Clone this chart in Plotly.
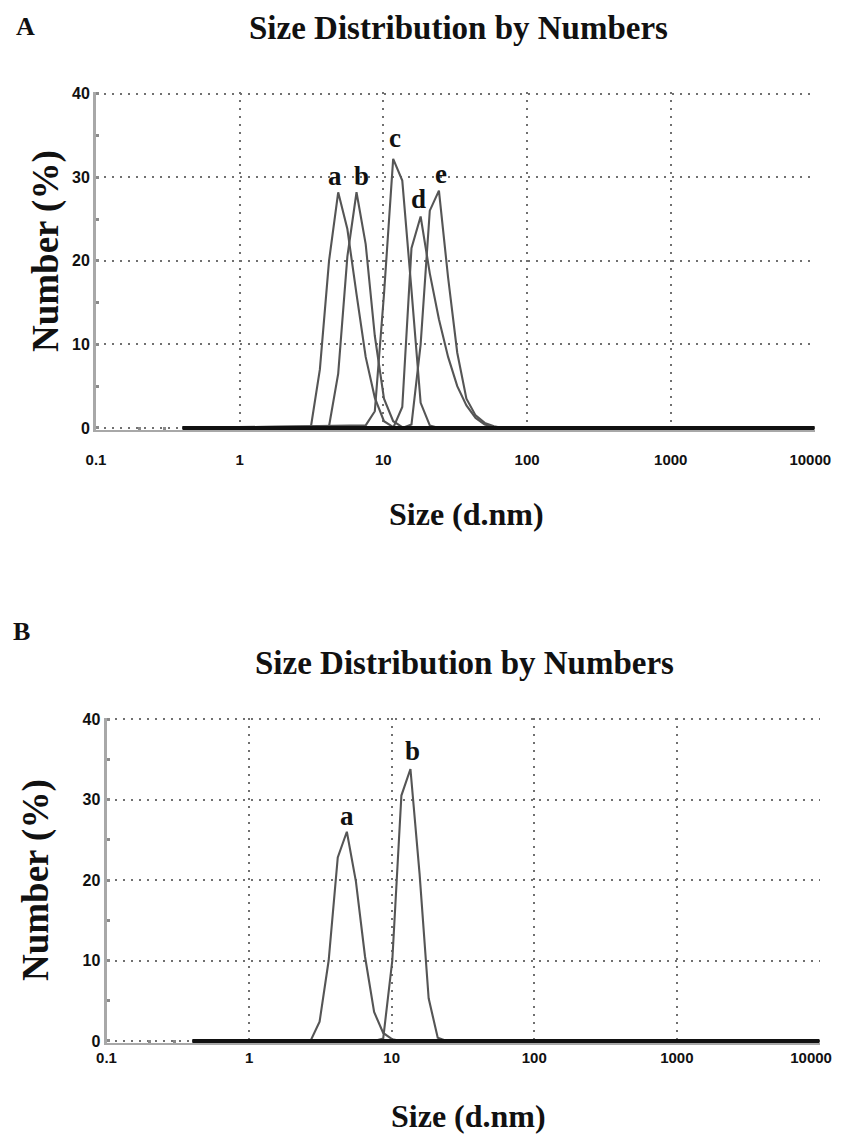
import math
import plotly.graph_objects as go

# ---------------- data ----------------
# Panel A
A_a_size = [0.4, 3.122, 3.615, 4.187, 4.849, 5.615, 6.503, 7.531, 8.721, 10.1, 11.7, 13.54, 10000]
A_a_num = [0, 0, 7.0, 20.0, 28.2, 23.8, 16.0, 8.5, 3.6, 0.8, 0.1, 0, 0]

A_b_size = [0.4, 4.187, 4.849, 5.615, 6.503, 7.531, 8.721, 10.1, 11.7, 13.54, 15.69, 10000]
A_b_num = [0, 0.2, 6.5, 20.5, 28.2, 22.0, 11.0, 3.5, 0.8, 0.1, 0, 0]

A_c_size = [0.4, 7.531, 8.721, 10.1, 11.7, 13.54, 15.69, 18.17, 21.04, 24.36, 10000]
A_c_num = [0, 0.3, 2.0, 16.0, 32.2, 29.6, 16.5, 3.0, 0.3, 0, 0]

A_d_size = [0.4, 11.7, 13.54, 15.69, 18.17, 21.04, 24.36, 28.21, 32.67, 37.84, 43.82, 50.75, 58.77, 68.06, 10000]
A_d_num = [0, 0, 2.5, 21.5, 25.3, 18.5, 13.0, 8.5, 5.0, 2.7, 1.2, 0.4, 0.1, 0, 0]

A_e_size = [0.4, 13.54, 15.69, 18.17, 21.04, 24.36, 28.21, 32.67, 37.84, 43.82, 50.75, 58.77, 68.06, 10000]
A_e_num = [0, 0, 0.4, 10.0, 26.0, 28.4, 18.0, 9.0, 3.5, 1.5, 0.6, 0.2, 0, 0]

# Panel B
B_a_size = [0.4, 2.696, 3.122, 3.615, 4.187, 4.849, 5.615, 6.503, 7.531, 8.721, 10.1, 11.7, 10000]
B_a_num = [0, 0, 2.4, 10.0, 22.8, 26.0, 19.8, 10.5, 3.6, 1.0, 0.2, 0, 0]

B_b_size = [0.4, 7.531, 8.721, 10.1, 11.7, 13.54, 15.69, 18.17, 21.04, 24.36, 10000]
B_b_num = [0, 0, 0.3, 10.0, 30.5, 33.8, 20.8, 5.3, 0.4, 0, 0]

x_tickvals = [0.1, 1, 10, 100, 1000, 10000]
x_ticktext = ["0.1", "1", "10", "100", "1000", "10000"]
x_minor_tickvals = [0.2, 0.3]
y_tickvals = [0, 10, 20, 30, 40]

title_text = "Size Distribution by Numbers"
x_title = "Size (d.nm)"
y_title = "Number (%)"

# ---------------- styling ----------------
W, H = 842, 1136
OFF = 8  # the page body offsets the figure by 8 px; positions below are in window pixels
SERIF = "Liberation Serif, Times New Roman, serif"
SANS = "Liberation Sans, Arial, sans-serif"
CURVE = "#555555"

panels = {
    "A": dict(xa="x", ya="y", px=(96, 815), py=(92, 430), standoff=15, lastpad=2,
              series=[("a", A_a_size, A_a_num, -3, 16),
                      ("b", A_b_size, A_b_num, 5, 16),
                      ("c", A_c_size, A_c_num, 2, 21),
                      ("d", A_d_size, A_d_num, -2, 18),
                      ("e", A_e_size, A_e_num, 2, 17)]),
    "B": dict(xa="x2", ya="y2", px=(106.5, 820), py=(717.5, 1043), standoff=0, lastpad=4,
              series=[("a", B_a_size, B_a_num, 0, 16),
                      ("b", B_b_size, B_b_num, 2, 18)]),
}

def fx(x):
    return (x - OFF) / W

def fy(y):
    return 1 - (y - OFF) / H

fig = go.Figure()
annotations = []

for key, p in panels.items():
    all_sizes = []
    for name, xs, ys, dx, dy in p["series"]:
        all_sizes += xs
        fig.add_trace(go.Scatter(x=xs, y=ys, mode="lines", name=f"{key}-{name}",
                                 line=dict(color=CURVE, width=2.1),
                                 xaxis=p["xa"], yaxis=p["ya"], showlegend=False))
    # zero baseline spanning the measured size range
    fig.add_trace(go.Scatter(x=[min(all_sizes), max(all_sizes)], y=[0, 0], mode="lines",
                             line=dict(color="#111111", width=4),
                             xaxis=p["xa"], yaxis=p["ya"], showlegend=False))
    for name, xs, ys, dx, dy in p["series"]:
        i = ys.index(max(ys))
        annotations.append(dict(x=math.log10(xs[i]), y=ys[i], xref=p["xa"], yref=p["ya"],
                                text=f"<b>{name}</b>", showarrow=False,
                                xanchor="center", yanchor="middle",
                                xshift=dx, yshift=dy,
                                font=dict(family=SERIF, size=27, color="#111")))

def x_axis(p):
    labels = [f"<b>{t}</b>" for t in x_ticktext]
    # keep the right-most label inside the window
    labels[-1] = labels[-1] + "&nbsp;" * p["lastpad"]
    return dict(type="log", range=[-1, 4.004], tickvals=x_tickvals, ticktext=labels,
                tickfont=dict(family=SANS, size=15, color="#111"),
                ticklabelstandoff=p["standoff"],
                showgrid=True, gridcolor="#707070", gridwidth=2, griddash="2px,6px",
                showline=True, linecolor="#a8a8a8", linewidth=2,
                ticks="", zeroline=False, automargin=False,
                minor=dict(tickmode="array", tickvals=x_minor_tickvals, ticks="inside",
                           ticklen=3, tickwidth=3, tickcolor="#8a8a8a", showgrid=False),
                domain=[fx(p["px"][0]), fx(p["px"][1])])

def y_axis(p):
    return dict(range=[-0.25, 40.2], tickvals=y_tickvals,
                ticktext=[f"<b>{v}</b>" for v in y_tickvals],
                tickfont=dict(family=SANS, size=16, color="#111"),
                showgrid=True, gridcolor="#707070", gridwidth=2, griddash="2px,6px",
                showline=True, linecolor="#a8a8a8", linewidth=3,
                ticks="inside", ticklen=3, tickwidth=3, tickcolor="#8a8a8a",
                minor=dict(dtick=5, ticks="inside", ticklen=3, tickwidth=3,
                           tickcolor="#8a8a8a", showgrid=False),
                zeroline=False, automargin=False,
                domain=[fy(p["py"][1]), fy(p["py"][0])])

pa, pb = panels["A"], panels["B"]
fig.update_layout(
    xaxis=dict(x_axis(pa), anchor="y"),
    yaxis=dict(y_axis(pa), anchor="x"),
    xaxis2=dict(x_axis(pb), anchor="y2"),
    yaxis2=dict(y_axis(pb), anchor="x2"),
)

def paper_text(text, x, y, size, angle=0, yanchor="middle"):
    annotations.append(dict(x=fx(x), y=min(1.0, fy(y)), xref="paper", yref="paper",
                            text=f"<b>{text}</b>", showarrow=False, textangle=angle,
                            xanchor="center", yanchor=yanchor,
                            font=dict(family=SERIF, size=size, color="#111")))

# Panel A texts
paper_text("A", 25, 26, 26)
paper_text(title_text, 458, OFF, 33, yanchor="top")
paper_text(x_title, 466, 514, 32)
paper_text(y_title, 46, 251, 37, angle=-90)
# Panel B texts
paper_text("B", 21, 631, 26)
paper_text(title_text, 464, 663, 33)
paper_text(x_title, 468, 1116, 32)
paper_text(y_title, 36, 880, 37, angle=-90)

fig.update_layout(width=W, height=H,
                  margin=dict(l=0, r=0, t=0, b=0, pad=0, autoexpand=False),
                  paper_bgcolor="white", plot_bgcolor="white",
                  annotations=annotations, showlegend=False)

fig.write_html("out.html")
